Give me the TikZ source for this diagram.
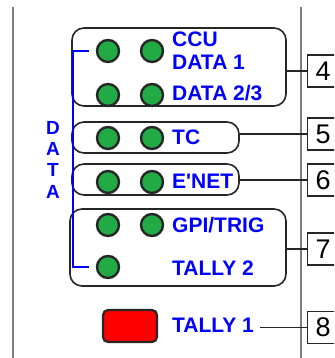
\documentclass[tikz,border=0pt]{standalone}
\usepackage{fontspec}
\setmainfont{Liberation Sans}
\usetikzlibrary{positioning}
\definecolor{ledgreen}{RGB}{34,170,68}
\definecolor{panelgray}{RGB}{125,125,125}

\begin{document}
\begin{tikzpicture}[x=1pt,y=-1pt,
  led/.style={circle,draw=black!85,line width=2.4pt,fill=ledgreen,minimum size=22pt,inner sep=0pt},
  grp/.style={draw=black!85,line width=1.6pt,rounded corners=12pt,inner sep=0pt},
  lbl/.style={anchor=base west,inner sep=0pt,text=blue,font=\fontsize{21}{21}\selectfont\bfseries},
  num/.style={draw=black!85,line width=1.4pt,anchor=west,inner xsep=8pt,inner ysep=0pt,minimum height=32pt,font=\fontsize{27}{27}\selectfont},
  conn/.style={black!85,line width=1.4pt}]
  \clip (0,0) rectangle (334,358);

  % panel edges
  \draw[panelgray,line width=2.5pt] (13,7) -- (13,358);
  \draw[panelgray,line width=2.5pt] (301,7) -- (301,358);

  % groups
  \node[grp,minimum width=214pt,minimum height=78pt] (grpccu) at (179,67) {};
  \node[grp,minimum width=167pt,minimum height=31pt] (grptc) at (155.5,137.5) {};
  \node[grp,minimum width=167pt,minimum height=31pt] (grpnet) at (155.5,179.5) {};
  \node[grp,minimum width=216pt,minimum height=77pt] (grpgpi) at (178,247.5) {};

  % data bracket
  \draw[blue,line width=2.4pt] (89,51) -- (73,51) -- (73,267) -- (89,267);
  \foreach \ch/\yy in {D/128,A/149,T/170,A/192}
    \node[text=blue,inner sep=0pt,font=\fontsize{19}{19}\selectfont\bfseries] at (53,\yy) {\ch};

  % leds
  \node[led] (ccua) at (108,51) {};
  \node[led] (ccub) at (152,51) {};
  \node[led] (data) at (108,95) {};
  \node[led] (datb) at (152,95) {};
  \node[led] (tca) at (108,138) {};
  \node[led] (tcb) at (152,138) {};
  \node[led] (neta) at (108,182) {};
  \node[led] (netb) at (152,182) {};
  \node[led] (gpia) at (108,225) {};
  \node[led] (gpib) at (152,225) {};
  \node[led] (tallytwo) at (108,267) {};
  \node[draw=black!85,line width=2.2pt,fill=red,rounded corners=5pt,minimum width=54pt,minimum height=32pt] (tallyone) at (130,326) {};

  % labels
  \node[lbl] (lccu) at (172,47) {CCU};
  \node[lbl] (ldata) at (172,70) {DATA 1};
  \node[lbl] (ldatb) at (172,101) {DATA 2/3};
  \node[lbl] (ltc) at (172,145) {TC};
  \node[lbl] (lnet) at (172,188) {E\textquotesingle NET};
  \node[lbl] (lgpi) at (172,232) {GPI/TRIG};
  \node[lbl] (ltwo) at (172,275) {TALLY 2};
  \node[lbl] (lone) at (172,332) {TALLY 1};

  % callouts
  \node[num] (n4) at (307,71) {4};
  \node[num] (n5) at (307,134) {5};
  \node[num] (n6) at (307,180) {6};
  \node[num] (n7) at (307,249) {7};
  \node[num] (n8) at (307,327.5) {8};

  \draw[conn] (n4.west -| grpccu.east) -- (n4.west);
  \draw[conn] (n5.west -| grptc.east) -- (n5.west);
  \draw[conn] (n6.west -| grpnet.east) -- (n6.west);
  \draw[conn] (n7.west -| grpgpi.east) -- (n7.west);
  \draw[conn] ([xshift=6pt]lone.east |- n8.west) -- (n8.west);
\end{tikzpicture}
\end{document}
